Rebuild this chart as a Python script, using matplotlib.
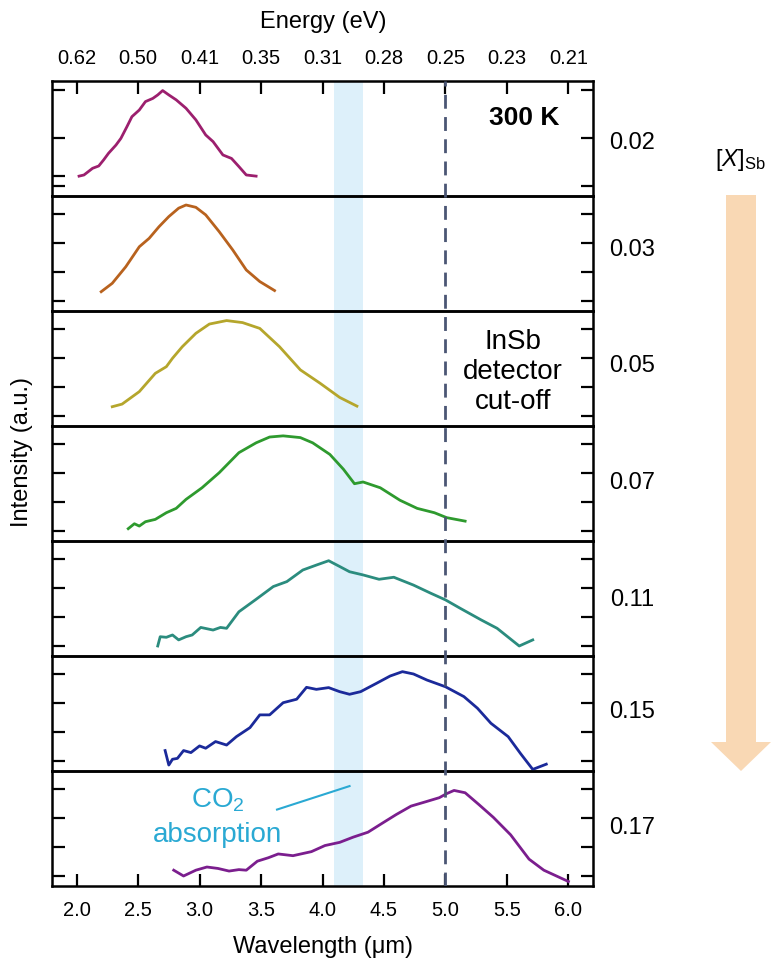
import matplotlib
matplotlib.use("Agg")
import matplotlib.pyplot as plt
from matplotlib.patches import Polygon

plt.rcParams['font.family'] = ['Liberation Sans', 'DejaVu Sans']
plt.rcParams['mathtext.fontset'] = 'custom'
plt.rcParams['mathtext.rm'] = 'Liberation Sans'
plt.rcParams['mathtext.it'] = 'Liberation Sans:italic'
plt.rcParams['mathtext.bf'] = 'Liberation Sans:bold'

# ---------------- data ----------------
compositions = ["0.02", "0.03", "0.05", "0.07", "0.11", "0.15", "0.17"]
colors = ["#9C1F6E", "#B8621E", "#B5A62C", "#2E9A2E", "#2B8C7E", "#1B2A9A", "#7B1E8E"]

wl_002 = [2.02, 2.06, 2.13, 2.18, 2.22, 2.26, 2.32, 2.36, 2.41, 2.45, 2.51, 2.56, 2.62, 2.66, 2.70,
          2.75, 2.81, 2.89, 2.97, 3.05, 3.11, 3.19, 3.26, 3.32, 3.38, 3.46]
in_002 = [0.34, 0.38, 0.61, 0.69, 0.90, 1.13, 1.41, 1.64, 2.05, 2.39, 2.62, 2.91, 3.02, 3.14, 3.29,
          3.14, 2.97, 2.68, 2.28, 1.76, 1.53, 1.07, 0.95, 0.67, 0.38, 0.34]

wl_003 = [2.20, 2.29, 2.40, 2.51, 2.59, 2.67, 2.75, 2.83, 2.89, 2.97, 3.05, 3.16, 3.27, 3.38, 3.49, 3.61]
in_003 = [0.32, 0.61, 1.18, 1.87, 2.16, 2.56, 2.91, 3.20, 3.31, 3.23, 2.97, 2.39, 1.76, 1.07, 0.67, 0.36]

wl_005 = [2.29, 2.37, 2.51, 2.64, 2.73, 2.78, 2.86, 2.97, 3.08, 3.22, 3.35, 3.49, 3.65, 3.82, 3.98,
          4.14, 4.28]
in_005 = [0.32, 0.41, 0.84, 1.47, 1.70, 1.99, 2.39, 2.85, 3.17, 3.29, 3.22, 3.02, 2.39, 1.59, 1.13,
          0.64, 0.34]

wl_007 = [2.42, 2.47, 2.51, 2.56, 2.64, 2.73, 2.81, 2.89, 3.02, 3.16, 3.32, 3.46, 3.57, 3.68, 3.82,
          3.92, 4.06, 4.17, 4.26, 4.33, 4.47, 4.63, 4.77, 4.91, 5.01, 5.16]
in_007 = [0.08, 0.25, 0.17, 0.32, 0.40, 0.63, 0.78, 1.09, 1.49, 2.01, 2.70, 3.04, 3.24, 3.28, 3.22,
          3.04, 2.64, 2.13, 1.63, 1.69, 1.49, 1.06, 0.78, 0.63, 0.46, 0.34]

wl_011 = [2.66, 2.68, 2.73, 2.78, 2.83, 2.89, 2.94, 3.01, 3.11, 3.17, 3.22, 3.32, 3.46, 3.60, 3.71,
          3.84, 3.95, 4.05, 4.14, 4.22, 4.33, 4.46, 4.58, 4.74, 4.88, 5.00, 5.12, 5.29, 5.42, 5.60, 5.71]
in_011 = [0.00, 0.32, 0.30, 0.38, 0.21, 0.32, 0.38, 0.64, 0.55, 0.64, 0.61, 1.18, 1.61, 2.05, 2.22,
          2.62, 2.79, 2.94, 2.74, 2.56, 2.45, 2.30, 2.37, 2.10, 1.82, 1.59, 1.30, 0.90, 0.61, 0.00, 0.21]

wl_015 = [2.72, 2.75, 2.78, 2.82, 2.87, 2.93, 3.00, 3.05, 3.13, 3.22, 3.30, 3.41, 3.49, 3.57, 3.68,
          3.79, 3.87, 3.95, 4.05, 4.14, 4.22, 4.31, 4.44, 4.55, 4.65, 4.74, 4.85, 5.00, 5.15, 5.26,
          5.37, 5.51, 5.61, 5.71, 5.82]
in_015 = [0.36, -0.14, 0.06, 0.09, 0.36, 0.29, 0.52, 0.44, 0.67, 0.55, 0.84, 1.15, 1.59, 1.59, 2.01,
          2.13, 2.54, 2.47, 2.53, 2.39, 2.30, 2.39, 2.68, 2.93, 3.08, 3.00, 2.79, 2.56, 2.22, 1.82,
          1.30, 0.84, 0.26, -0.29, -0.11]

wl_017 = [2.79, 2.87, 2.97, 3.06, 3.15, 3.24, 3.32, 3.38, 3.47, 3.56, 3.64, 3.76, 3.91, 4.02, 4.14,
          4.25, 4.37, 4.49, 4.60, 4.72, 4.84, 4.95, 5.01, 5.07, 5.16, 5.27, 5.39, 5.53, 5.68, 5.80, 6.00]
in_017 = [0.20, 0.00, 0.20, 0.31, 0.26, 0.17, 0.22, 0.20, 0.51, 0.63, 0.76, 0.70, 0.84, 1.05, 1.16,
          1.34, 1.51, 1.83, 2.12, 2.41, 2.56, 2.70, 2.84, 2.95, 2.87, 2.47, 2.02, 1.42, 0.58, 0.20, -0.19]

wavelengths = [wl_002, wl_003, wl_005, wl_007, wl_011, wl_015, wl_017]
intensities = [in_002, in_003, in_005, in_007, in_011, in_015, in_017]

wl_ticks = [2.0, 2.5, 3.0, 3.5, 4.0, 4.5, 5.0, 5.5, 6.0]
wl_labels = ["2.0", "2.5", "3.0", "3.5", "4.0", "4.5", "5.0", "5.5", "6.0"]
energy_labels = ["0.62", "0.50", "0.41", "0.35", "0.31", "0.28", "0.25", "0.23", "0.21"]
co2_band = (4.09, 4.33)
cutoff_wl = 5.0

# ---------------- layout ----------------
W, H = 773, 968
fig = plt.figure(figsize=(W / 100, H / 100), dpi=100)

left_px, right_px = 52, 593
top_px, panel_h = 81, 115
n = len(compositions)
xlim = (1.8, 6.2)
ylim = (-0.345, 3.62)

def fx(px):
    return px / W

def fy(py):
    return 1 - py / H

# background axes for CO2 band
bg = fig.add_axes([fx(left_px), fy(top_px + n * panel_h), fx(right_px - left_px), (n * panel_h) / H])
bg.set_xlim(*xlim)
bg.set_ylim(0, 1)
bg.axis('off')
bg.axvspan(co2_band[0], co2_band[1], color="#DDF0FA", lw=0, zorder=0)

axes = []
for i in range(n):
    ax = fig.add_axes([fx(left_px), fy(top_px + (i + 1) * panel_h), fx(right_px - left_px), panel_h / H])
    ax.set_facecolor('none')
    ax.plot(wavelengths[i], intensities[i], color=colors[i], lw=2.0, zorder=3)
    ax.set_xlim(*xlim)
    ax.set_ylim(*ylim)
    for s in ax.spines.values():
        s.set_linewidth(1.8)
    ax.tick_params(axis='y', which='both', direction='in', left=True, right=True,
                   labelleft=False, labelright=False, length=9, width=1.6)
    if i == 0:
        ax.set_yticks([0, 1.66, 3.31])
        ax.set_yticks([0.34], minor=True)
        ax.tick_params(axis='y', which='minor', left=True, right=False, length=9, width=1.6)
    else:
        ax.set_yticks([0, 1, 2, 3])
    ax.set_xticks(wl_ticks)
    if i == 0:
        ax.xaxis.set_ticks_position('top')
        ax.set_xticklabels(energy_labels)
        ax.tick_params(axis='x', direction='in', top=True, bottom=False, labeltop=True,
                       labelbottom=False, length=9, width=1.6, pad=9, labelsize=14.5)
    elif i == n - 1:
        ax.set_xticklabels(wl_labels)
        ax.tick_params(axis='x', direction='in', top=False, bottom=True, labelbottom=True,
                       length=9, width=1.6, pad=11, labelsize=14.5)
    else:
        ax.tick_params(axis='x', top=False, bottom=False, labelbottom=False)
    axes.append(ax)

# cut-off dashed line over whole stack
ov = fig.add_axes(bg.get_position())
ov.set_xlim(*xlim)
ov.set_ylim(0, 1)
ov.axis('off')
ov.axvline(cutoff_wl, color="#4B5674", lw=2.0, ls=(0, (5, 3)), zorder=5)

# text annotations
axes[0].text(0.872, 0.68, "300 K", transform=axes[0].transAxes, ha='center', va='center',
             fontsize=19, fontweight='bold')
axes[2].text(0.852, 0.47, "InSb\ndetector\ncut-off", transform=axes[2].transAxes, ha='center',
             va='center', fontsize=20, linespacing=1.22)
co2c = "#2AA9D3"
axes[6].text(3.15, 2.60, "CO$_2$", ha='center', va='center', fontsize=20, color=co2c)
axes[6].text(3.15, 1.40, "absorption", ha='center', va='center', fontsize=20, color=co2c)
axes[6].plot([3.63, 4.22], [2.29, 3.10], color=co2c, lw=1.5, zorder=4)

# axis labels
fig.text(fx(323), fy(22), "Energy (eV)", ha='center', va='center', fontsize=17)
fig.text(fx(323), fy(947), "Wavelength (\u03bcm)", ha='center', va='center', fontsize=17)
fig.text(fx(22), fy(452), "Intensity (a.u.)", ha='center', va='center', fontsize=17, rotation=90)

# right-hand composition labels
label_y = [143, 250, 366, 483, 600, 712, 828]
for c, py in zip(compositions, label_y):
    fig.text(fx(632), fy(py), c, ha='center', va='center', fontsize=17)

fig.text(fx(740), fy(160), "[$\\mathit{X}$]$_{\\mathrm{Sb}}$", ha='center', va='center', fontsize=17)

# arrow (decoration) in pixel space
full = fig.add_axes([0, 0, 1, 1], zorder=-1)
full.set_xlim(0, W)
full.set_ylim(H, 0)
full.axis('off')
arrow = Polygon([(726, 195), (756, 195), (756, 742), (771, 742), (741, 771), (711, 742), (726, 742)],
                closed=True, facecolor="#F9D8B4", edgecolor='none')
full.add_patch(arrow)

fig.savefig("out.png", dpi=100)
